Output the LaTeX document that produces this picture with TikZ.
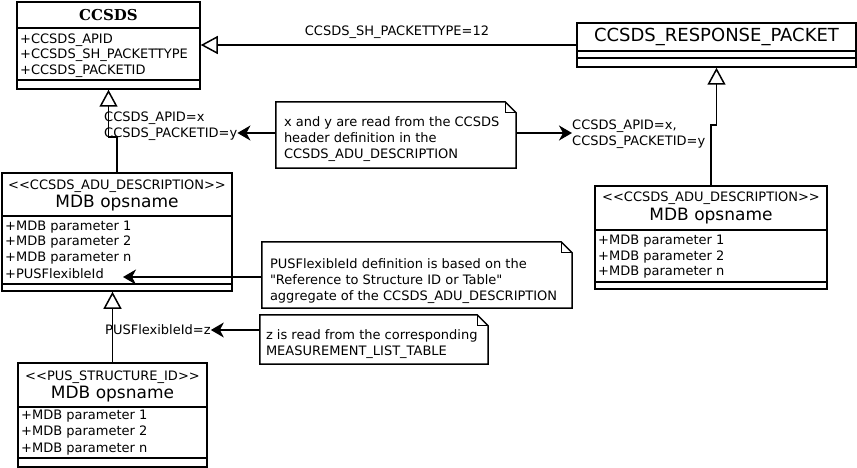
\documentclass[tikz,border=0pt]{standalone}
\usepackage{fontspec}
\setmainfont{DejaVu Sans}[Ligatures=TeXOff]
\newfontfamily\serifbold{DejaVu Serif}
\usetikzlibrary{arrows.meta}
\newcommand{\attrsize}{\fontsize{13}{16}\selectfont}
\newcommand{\titlesize}{\fontsize{17}{19}\selectfont}
% note frame with a folded corner
\newcommand{\dogear}[1]{%
  \draw[line width=1.5pt] (#1.north west) -- ([xshift=-11pt]#1.north east)
    -- ([yshift=-11pt]#1.north east) -- (#1.south east) -- (#1.south west) -- cycle;
  \draw[line width=1pt] ([xshift=-11pt]#1.north east) |- ([yshift=-11pt]#1.north east);}

\begin{document}
\begin{tikzpicture}[x=1pt,y=-1pt,
  cls/.style={draw,line width=1.5pt,inner sep=0pt},
  div/.style={line width=1.5pt},
  txt/.style={inner sep=0pt,font=\attrsize,anchor=west,align=left},
  ttl/.style={inner sep=0pt,font=\titlesize},
  frame/.style={inner sep=0pt},
  inherit/.style={line width=1.5pt,-{Triangle[open,length=17pt,width=18pt,line width=1.5pt]}},
  dep/.style={line width=1.5pt,-{Stealth[length=13pt,width=15pt,inset=4pt]}}]
  \useasboundingbox (0,0) rectangle (857,468);
  % class boxes
  \node[cls,minimum width=183pt,minimum height=87pt] (ccsds) at (108.5,45.5) {};
  \node[cls,minimum width=279pt,minimum height=44pt] (resp) at (716.5,45) {};
  \node[cls,minimum width=230pt,minimum height=118pt] (adu1) at (117,232) {};
  \node[cls,minimum width=232pt,minimum height=103pt] (adu2) at (711,237.5) {};
  \node[cls,minimum width=189pt,minimum height=104pt] (pus) at (112.5,415) {};
  \foreach \b/\ya/\yb in {ccsds/28/80, resp/51/58, adu1/216/284, adu2/230/282, pus/407/458} {
    \draw[div] (\b.west |- 0,\ya) -- (\b.east |- 0,\ya);
    \draw[div] (\b.west |- 0,\yb) -- (\b.east |- 0,\yb);
  }
  % titles
  \node[inner sep=0pt,font=\serifbold\bfseries\fontsize{15}{17}\selectfont] (ccsdsT) at (108.5,15) {CCSDS};
  \node[inner sep=0pt,font=\fontsize{18}{20}\selectfont] (respT) at (716.5,37) {CCSDS\_RESPONSE\_PACKET};
  \node[txt,anchor=center] (adu1S) at (117,186) {<{}<CCSDS\_ADU\_DESCRIPTION>{}>};
  \node[ttl] (adu1T) at (117,203) {MDB opsname};
  \node[txt,anchor=center] (adu2S) at (711,198) {<{}<CCSDS\_ADU\_DESCRIPTION>{}>};
  \node[ttl] (adu2T) at (711,216) {MDB opsname};
  \node[txt,anchor=center] (pusS) at (112.5,377) {<{}<PUS\_STRUCTURE\_ID>{}>};
  \node[ttl] (pusT) at (112.5,394) {MDB opsname};
  % attributes
  \node[txt] (c1) at (20,40) {+CCSDS\_APID};
  \node[txt] (c2) at (20,55) {+CCSDS\_SH\_PACKETTYPE};
  \node[txt] (c3) at (20,71) {+CCSDS\_PACKETID};
  \node[txt] (a1) at (5,227) {+MDB parameter 1};
  \node[txt] (a2) at (5,242) {+MDB parameter 2};
  \node[txt] (a3) at (5,258) {+MDB parameter n};
  \node[txt] (a4) at (5,274) {+PUSFlexibleId};
  \node[txt] (b1) at (598,241) {+MDB parameter 1};
  \node[txt] (b2) at (598,257) {+MDB parameter 2};
  \node[txt] (b3) at (598,272) {+MDB parameter n};
  \node[txt] (p1) at (21,416) {+MDB parameter 1};
  \node[txt] (p2) at (21,432) {+MDB parameter 2};
  \node[txt] (p3) at (21,449) {+MDB parameter n};
  % generalisations
  \draw[inherit] (resp.west) -- (resp.west -| ccsds.east);
  \draw[inherit] (adu1.north) -- ++(0,-35) -| (ccsds.south);
  \draw[inherit] (adu2.north) -- ++(0,-60) -| (resp.south);
  \draw[inherit] (pus.north) -- (pus.north |- adu1.south);
  % labels
  \node[txt,anchor=center] (ptype) at (397,32) {CCSDS\_SH\_PACKETTYPE=12};
  \node[txt] (apidL) at (104,126) {CCSDS\_APID=x\\CCSDS\_PACKETID=y};
  \node[txt] (apidR) at (572,134) {CCSDS\_APID=x,\\CCSDS\_PACKETID=y};
  \node[txt] (flexL) at (105,330) {PUSFlexibleId=z};
  % notes
  \node[frame,minimum width=240pt,minimum height=66pt] (n1) at (396,135) {};
  \node[frame,minimum width=310pt,minimum height=66pt] (n2) at (417,275) {};
  \node[frame,minimum width=228pt,minimum height=49pt] (n3) at (374,339.5) {};
  \dogear{n1}
  \dogear{n2}
  \dogear{n3}
  \node[txt] (n1t) at ([xshift=8pt,yshift=-4pt]n1.west)
    {x and y are read from the CCSDS\\header definition in the\\CCSDS\_ADU\_DESCRIPTION};
  \node[txt] (n2t) at ([xshift=8pt,yshift=-6pt]n2.west)
    {PUSFlexibleId definition is based on the\\"Reference to Structure ID or Table"\\aggregate of the CCSDS\_ADU\_DESCRIPTION};
  \node[txt] (n3t) at ([xshift=6pt,yshift=-5pt]n3.west)
    {z is read from the corresponding\\MEASUREMENT\_LIST\_TABLE};
  \coordinate (flexTip) at (123,277);
  % dependencies
  \draw[dep] (n1.west |- 0,133) -- (apidL.east |- 0,133);
  \draw[dep] (n1.east |- 0,133) -- (apidR.west |- 0,133);
  \draw[dep] (n2.west |- flexTip) -- (flexTip);
  \draw[dep] (n3.west |- flexL) -- (flexL.east);
\end{tikzpicture}
\end{document}
